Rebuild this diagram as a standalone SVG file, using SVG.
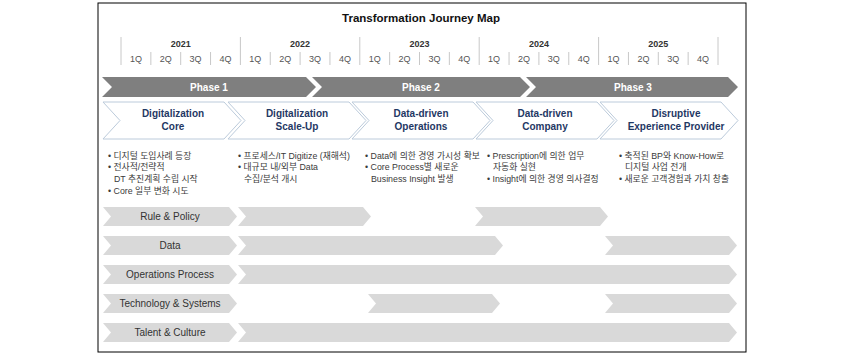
<svg xmlns="http://www.w3.org/2000/svg" width="844" height="355" viewBox="0 0 844 355">
<style>
.f{font-family:"Liberation Sans","Noto Sans CJK KR",sans-serif}
.title{font-size:11.5px;font-weight:bold;fill:#111}
.yr{font-size:9px;font-weight:bold;fill:#333;text-anchor:middle}
.q{font-size:9px;fill:#555;text-anchor:middle}
.yl{stroke:#c8c8c8;stroke-width:1}
.ph{fill:#7f7f7f}
.phl{font-size:10px;font-weight:bold;fill:#fff;text-anchor:middle}
.chev{fill:#fff;stroke:#bccbdb;stroke-width:1}
.ct{font-size:10px;font-weight:bold;fill:#1f3864;text-anchor:middle}
.b{font-size:8.8px;fill:#3a3a3a}
.row{fill:#d9d9d9}
.rl{font-size:10px;fill:#333;text-anchor:middle}
</style>
<rect x="98" y="3" width="648" height="349" fill="#fff" stroke="#000" stroke-width="1"/>
<text class="f title" x="421" y="22" text-anchor="middle">Transformation Journey Map</text>

<g id="timeline">
<g class="yl">
<line x1="121" y1="37" x2="121" y2="65"/>
<line x1="240.4" y1="37" x2="240.4" y2="65"/>
<line x1="359.8" y1="37" x2="359.8" y2="65"/>
<line x1="479.2" y1="37" x2="479.2" y2="65"/>
<line x1="598.6" y1="37" x2="598.6" y2="65"/>
<line x1="718" y1="37" x2="718" y2="65"/>
<line x1="150.85" y1="52" x2="150.85" y2="65"/><line x1="180.7" y1="52" x2="180.7" y2="65"/><line x1="210.55" y1="52" x2="210.55" y2="65"/>
<line x1="270.25" y1="52" x2="270.25" y2="65"/><line x1="300.1" y1="52" x2="300.1" y2="65"/><line x1="329.95" y1="52" x2="329.95" y2="65"/>
<line x1="389.65" y1="52" x2="389.65" y2="65"/><line x1="419.5" y1="52" x2="419.5" y2="65"/><line x1="449.35" y1="52" x2="449.35" y2="65"/>
<line x1="509.05" y1="52" x2="509.05" y2="65"/><line x1="538.9" y1="52" x2="538.9" y2="65"/><line x1="568.75" y1="52" x2="568.75" y2="65"/>
<line x1="628.45" y1="52" x2="628.45" y2="65"/><line x1="658.3" y1="52" x2="658.3" y2="65"/><line x1="688.15" y1="52" x2="688.15" y2="65"/>
</g>
<text class="f yr" x="180.7" y="47">2021</text>
<text class="f yr" x="300.1" y="47">2022</text>
<text class="f yr" x="419.5" y="47">2023</text>
<text class="f yr" x="538.9" y="47">2024</text>
<text class="f yr" x="658.3" y="47">2025</text>
<g class="f q">
<text x="136" y="62">1Q</text><text x="165.8" y="62">2Q</text><text x="195.6" y="62">3Q</text><text x="225.5" y="62">4Q</text>
<text x="255.3" y="62">1Q</text><text x="285.2" y="62">2Q</text><text x="315" y="62">3Q</text><text x="344.9" y="62">4Q</text>
<text x="374.7" y="62">1Q</text><text x="404.6" y="62">2Q</text><text x="434.4" y="62">3Q</text><text x="464.3" y="62">4Q</text>
<text x="494.1" y="62">1Q</text><text x="524" y="62">2Q</text><text x="553.8" y="62">3Q</text><text x="583.7" y="62">4Q</text>
<text x="613.5" y="62">1Q</text><text x="643.4" y="62">2Q</text><text x="673.2" y="62">3Q</text><text x="703.1" y="62">4Q</text>
</g>
</g>

<g id="phase1"><polygon class="ph" points="102,77 306,77 316,87 306,97 102,97 112,87"/><text class="f phl" x="209" y="91">Phase 1</text></g>
<g id="phase2"><polygon class="ph" points="312,77 520,77 530,87 520,97 312,97 322,87"/><text class="f phl" x="421" y="91">Phase 2</text></g>
<g id="phase3"><polygon class="ph" points="526,77 728,77 738,87 728,97 526,97 536,87"/><text class="f phl" x="633" y="91">Phase 3</text></g>

<g id="stage1"><polygon class="chev" points="103,102 224,102 241,120.5 224,139 103,139 120,120.5"/>
<text class="f ct" x="173" y="117">Digitalization</text><text class="f ct" x="173" y="130">Core</text></g>
<g id="stage2"><polygon class="chev" points="228,102 349,102 366,120.5 349,139 228,139 245,120.5"/>
<text class="f ct" x="297" y="117">Digitalization</text><text class="f ct" x="297" y="130">Scale-Up</text></g>
<g id="stage3"><polygon class="chev" points="352,102 473,102 490,120.5 473,139 352,139 369,120.5"/>
<text class="f ct" x="421" y="117">Data-driven</text><text class="f ct" x="421" y="130">Operations</text></g>
<g id="stage4"><polygon class="chev" points="476,102 597,102 614,120.5 597,139 476,139 493,120.5"/>
<text class="f ct" x="545" y="117">Data-driven</text><text class="f ct" x="545" y="130">Company</text></g>
<g id="stage5"><polygon class="chev" points="600,102 721,102 738,120.5 721,139 600,139 617,120.5"/>
<text class="f ct" x="676" y="117">Disruptive</text><text class="f ct" x="676" y="130">Experience Provider</text></g>

<g id="desc1" class="f b">
<text x="108" y="158.5">• 디지털 도입사례 등장</text>
<text x="108" y="170.2">• 전사적/전략적</text>
<text x="114" y="181.9">DT 추진계획 수립 시작</text>
<text x="108" y="193.6">• Core 일부 변화 시도</text>
</g>
<g id="desc2" class="f b">
<text x="238" y="158.5">• 프로세스/IT Digitize (재해석)</text>
<text x="238" y="170.2">• 대규모 내/외부 Data</text>
<text x="244" y="181.9">수집/분석 개시</text>
</g>
<g id="desc3" class="f b">
<text x="365" y="158.5">• Data에 의한 경영 가시성 확보</text>
<text x="365" y="170.2">• Core Process별 새로운</text>
<text x="371" y="181.9">Business Insight 발생</text>
</g>
<g id="desc4" class="f b">
<text x="487" y="158.5">• Prescription에 의한 업무</text>
<text x="493" y="170.2">자동화 실현</text>
<text x="487" y="181.9">• Insight에 의한 경영 의사결정</text>
</g>
<g id="desc5" class="f b">
<text x="619" y="158.5">• 축적된 BP와 Know-How로</text>
<text x="625" y="170.2">디지털 사업 전개</text>
<text x="619" y="181.9">• 새로운 고객경험과 가치 창출</text>
</g>

<g id="row-rule">
<polygon class="row" points="103,207 229,207 237,216.5 229,226 103,226 111,216.5"/>
<text class="f rl" x="170" y="220">Rule &amp; Policy</text>
<polygon class="row" points="238,207 363,207 371,216.5 363,226 238,226 246,216.5"/>
<polygon class="row" points="475,207 600,207 608,216.5 600,226 475,226 483,216.5"/>
</g>
<g id="row-data">
<polygon class="row" points="103,236 229,236 237,245.5 229,255 103,255 111,245.5"/>
<text class="f rl" x="170" y="249">Data</text>
<polygon class="row" points="238,236 495,236 503,245.5 495,255 238,255 246,245.5"/>
<polygon class="row" points="605,236 729,236 737,245.5 729,255 605,255 613,245.5"/>
</g>
<g id="row-ops">
<polygon class="row" points="103,265 229,265 237,274.5 229,284 103,284 111,274.5"/>
<text class="f rl" x="170" y="278">Operations Process</text>
<polygon class="row" points="238,265 729,265 737,274.5 729,284 238,284 246,274.5"/>
</g>
<g id="row-tech">
<polygon class="row" points="103,294 229,294 237,303.5 229,313 103,313 111,303.5"/>
<text class="f rl" x="170" y="307">Technology &amp; Systems</text>
<polygon class="row" points="368,294 492,294 500,303.5 492,313 368,313 376,303.5"/>
<polygon class="row" points="605,294 729,294 737,303.5 729,313 605,313 613,303.5"/>
</g>
<g id="row-talent">
<polygon class="row" points="103,323 229,323 237,332.5 229,342 103,342 111,332.5"/>
<text class="f rl" x="170" y="336">Talent &amp; Culture</text>
<polygon class="row" points="238,323 729,323 737,332.5 729,342 238,342 246,332.5"/>
</g>
<g id="connectors"/>
</svg>
